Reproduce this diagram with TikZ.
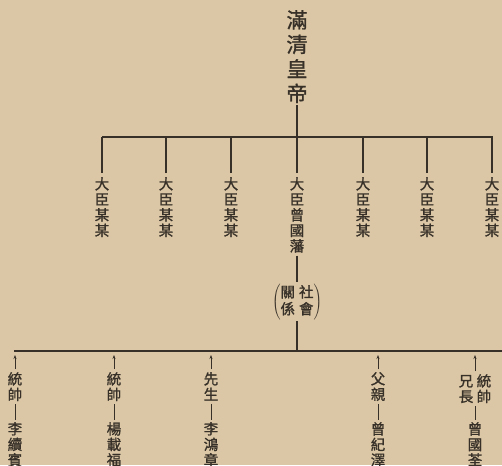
\documentclass[tikz,border=0pt]{standalone}
\usepackage{fontspec}
\setmainfont{Noto Sans CJK TC}[FakeBold=1.2]
\usetikzlibrary{arrows.meta}
\definecolor{paper}{RGB}{219,199,165}
\definecolor{ink}{RGB}{55,48,40}
\begin{document}
\begin{tikzpicture}[x=1pt,y=-1pt,
  vtext/.style={align=center,inner sep=0pt,anchor=north,text=ink},
  big/.style={font=\fontsize{21}{24.5}\selectfont},
  small/.style={font=\fontsize{14.5}{15.5}\selectfont},
  conn/.style={draw=ink,line width=1.5pt},
  bar/.style={draw=ink,line width=2pt},
  thinconn/.style={draw=ink,line width=0.9pt},
  up/.style={draw=ink,line width=0.8pt,-{Stealth[length=4pt,width=3pt]}}]
\fill[paper] (0,0) rectangle (502,465);
\clip (0,0) rectangle (502,465);
% title
\node[vtext,big] (title) at (297,10) {滿\\清\\皇\\帝};
\coordinate (barL) at (102,137);
\coordinate (barR) at (493,137);
\draw[bar] (barL) -- (barR);
\draw[conn,shorten <=2pt] (title.south) -- (title.south |- barL);
% ministers
\node[vtext,small] (m1) at (102,177) {大\\臣\\某\\某};
\node[vtext,small] (m2) at (166,177) {大\\臣\\某\\某};
\node[vtext,small] (m3) at (231,177) {大\\臣\\某\\某};
\node[vtext,small] (m4) at (297,177) {大\\臣\\曾\\國\\藩};
\node[vtext,small] (m5) at (363,177) {大\\臣\\某\\某};
\node[vtext,small] (m6) at (427,177) {大\\臣\\某\\某};
\node[vtext,small] (m7) at (492,177) {大\\臣\\某\\某};
\foreach \m in {m1,m2,m3,m4,m5,m6,m7}
  \draw[conn,shorten <=4pt] (\m.north) -- (\m.north |- barL);
% relation
\node[inner sep=0pt,text=ink] (rel) at (297,302) {$\left(\vcenter{\hbox{\fontsize{14.5}{15}\selectfont\begin{tabular}{@{}c@{\hspace{4pt}}c@{}}關&社\\係&會\end{tabular}}}\right)$};
\draw[conn,shorten <=3pt,shorten >=2pt] (m4.south) -- (rel.north);
\coordinate (bbL) at (14,351);
\coordinate (bbR) at (502,351);
\draw[bar,line width=2.3pt] (bbL) -- (bbR);
\draw[conn,shorten <=1pt] (rel.south) -- (rel.south |- bbL);
% bottom row
\node[vtext,small] (l1) at (15,372) {統\\帥};
\node[vtext,small] (n1) at (15,422) {李\\續\\賓};
\node[vtext,small] (l2) at (114,372) {統\\帥};
\node[vtext,small] (n2) at (114,422) {楊\\載\\福};
\node[vtext,small] (l3) at (211,372) {先\\生};
\node[vtext,small] (n3) at (211,422) {李\\鴻\\章};
\node[vtext,small] (l4) at (378,372) {父\\親};
\node[vtext,small] (n4) at (378,422) {曾\\紀\\澤};
\node[vtext,small] (l5) at (475,374) {兄\hspace{3.5pt}統\\長\hspace{3.5pt}帥};
\node[vtext,small] (n5) at (475,422) {曾\\國\\荃};
\foreach \i in {1,...,5}{
  \draw[up,shorten <=3pt,shorten >=4pt] (l\i.north) -- (l\i.north |- bbL);
  \draw[thinconn,shorten <=3pt,shorten >=2pt] (l\i.south) -- (n\i.north);
}
\end{tikzpicture}
\end{document}
